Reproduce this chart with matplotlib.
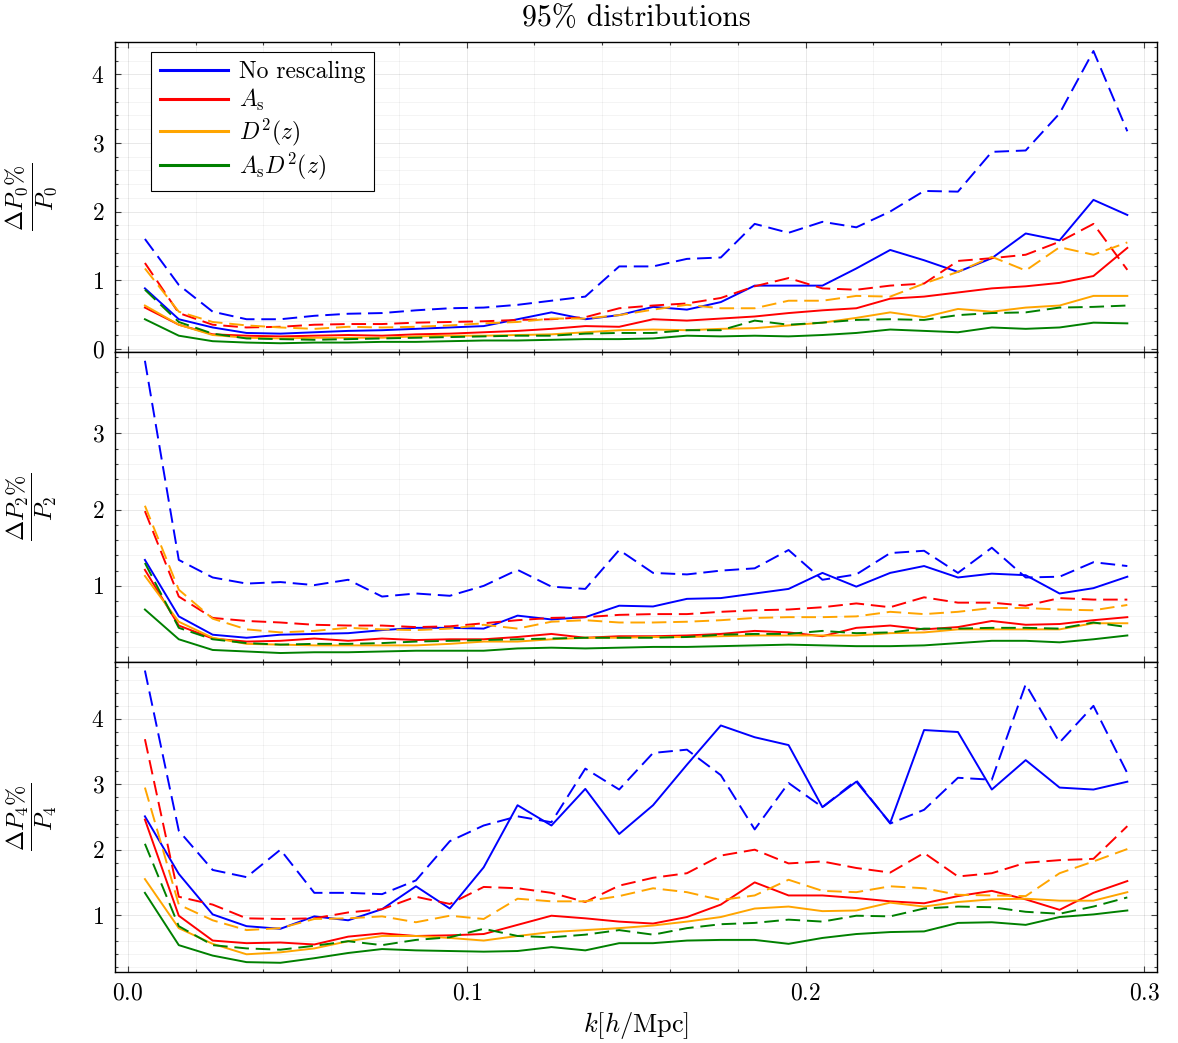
import matplotlib
matplotlib.use("Agg")
import matplotlib.pyplot as plt
from matplotlib.ticker import MultipleLocator, FixedLocator

plt.rcParams['font.family'] = 'serif'
plt.rcParams['font.serif'] = ['cmr10']
plt.rcParams['mathtext.fontset'] = 'cm'
plt.rcParams['axes.formatter.use_mathtext'] = True

# k bins
k = [0.005, 0.015, 0.025, 0.035, 0.045, 0.055, 0.065, 0.075, 0.085, 0.095,
     0.105, 0.115, 0.125, 0.135, 0.145, 0.155, 0.165, 0.175, 0.185, 0.195,
     0.205, 0.215, 0.225, 0.235, 0.245, 0.255, 0.265, 0.275, 0.285, 0.295]

labels = ['No rescaling', r'$A_\mathrm{s}$', r'$D^2(z)$', r'$A_\mathrm{s}D^2(z)$']
colors = ['blue', 'red', 'orange', 'green']

# monopole: solid / dashed for each rescaling
p0_none = [0.88, 0.43, 0.31, 0.23, 0.22, 0.24, 0.26, 0.27, 0.29, 0.31, 0.33, 0.43, 0.53, 0.43, 0.49,
           0.61, 0.57, 0.68, 0.92, 0.92, 0.92, 1.17, 1.44, 1.29, 1.12, 1.32, 1.68, 1.58, 2.17, 1.95]
p0_none_d = [1.60, 0.93, 0.54, 0.43, 0.43, 0.48, 0.51, 0.52, 0.56, 0.59, 0.60, 0.64, 0.70, 0.76, 1.20,
             1.20, 1.31, 1.33, 1.82, 1.69, 1.85, 1.77, 2.00, 2.30, 2.29, 2.87, 2.89, 3.43, 4.34, 3.17]
p0_as = [0.60, 0.35, 0.21, 0.19, 0.18, 0.19, 0.20, 0.19, 0.21, 0.22, 0.24, 0.26, 0.29, 0.33, 0.32,
         0.43, 0.41, 0.44, 0.47, 0.52, 0.56, 0.59, 0.73, 0.76, 0.82, 0.88, 0.91, 0.96, 1.06, 1.47]
p0_as_d = [1.25, 0.52, 0.35, 0.31, 0.32, 0.35, 0.36, 0.36, 0.38, 0.39, 0.40, 0.42, 0.43, 0.46, 0.59,
           0.63, 0.66, 0.74, 0.91, 1.03, 0.88, 0.86, 0.92, 0.95, 1.28, 1.32, 1.37, 1.56, 1.82, 1.15]
p0_d2 = [0.63, 0.35, 0.20, 0.16, 0.15, 0.16, 0.16, 0.16, 0.18, 0.19, 0.19, 0.20, 0.21, 0.24, 0.27,
         0.28, 0.27, 0.29, 0.30, 0.34, 0.38, 0.45, 0.53, 0.46, 0.58, 0.54, 0.60, 0.63, 0.77, 0.77]
p0_d2_d = [1.17, 0.54, 0.39, 0.34, 0.31, 0.29, 0.32, 0.31, 0.32, 0.34, 0.37, 0.39, 0.44, 0.44, 0.49,
           0.57, 0.64, 0.59, 0.59, 0.70, 0.70, 0.77, 0.76, 0.95, 1.12, 1.34, 1.14, 1.48, 1.37, 1.55]
p0_asd2 = [0.43, 0.19, 0.11, 0.09, 0.08, 0.09, 0.09, 0.10, 0.10, 0.11, 0.12, 0.12, 0.13, 0.14, 0.14,
           0.15, 0.19, 0.18, 0.19, 0.18, 0.20, 0.23, 0.28, 0.26, 0.24, 0.31, 0.29, 0.31, 0.38, 0.37]
p0_asd2_d = [0.86, 0.39, 0.22, 0.15, 0.14, 0.13, 0.14, 0.15, 0.16, 0.17, 0.18, 0.19, 0.19, 0.22, 0.23,
             0.23, 0.27, 0.27, 0.41, 0.35, 0.38, 0.42, 0.43, 0.42, 0.49, 0.52, 0.53, 0.60, 0.61, 0.63]

# quadrupole
p2_none = [1.34, 0.60, 0.36, 0.32, 0.36, 0.37, 0.38, 0.42, 0.45, 0.45, 0.44, 0.61, 0.56, 0.59, 0.74,
           0.73, 0.83, 0.84, 0.90, 0.96, 1.17, 0.99, 1.17, 1.26, 1.11, 1.16, 1.14, 0.90, 0.97, 1.12]
p2_none_d = [3.95, 1.34, 1.11, 1.03, 1.05, 1.01, 1.08, 0.86, 0.90, 0.87, 1.00, 1.21, 0.99, 0.96, 1.47,
             1.17, 1.15, 1.20, 1.23, 1.47, 1.08, 1.15, 1.43, 1.46, 1.17, 1.50, 1.11, 1.12, 1.31, 1.26]
p2_as = [1.21, 0.48, 0.31, 0.27, 0.28, 0.31, 0.28, 0.31, 0.29, 0.30, 0.30, 0.33, 0.37, 0.32, 0.34,
         0.34, 0.35, 0.37, 0.41, 0.39, 0.34, 0.45, 0.48, 0.43, 0.46, 0.54, 0.49, 0.50, 0.55, 0.59]
p2_as_d = [1.98, 0.86, 0.58, 0.54, 0.52, 0.49, 0.48, 0.48, 0.46, 0.47, 0.51, 0.55, 0.58, 0.59, 0.62,
           0.63, 0.63, 0.66, 0.68, 0.69, 0.72, 0.77, 0.72, 0.85, 0.78, 0.78, 0.74, 0.84, 0.82, 0.82]
p2_d2 = [1.13, 0.53, 0.32, 0.24, 0.23, 0.22, 0.22, 0.22, 0.22, 0.24, 0.27, 0.27, 0.30, 0.32, 0.32,
         0.33, 0.33, 0.34, 0.35, 0.35, 0.35, 0.35, 0.38, 0.39, 0.43, 0.43, 0.43, 0.43, 0.51, 0.51]
p2_d2_d = [2.05, 0.95, 0.57, 0.43, 0.39, 0.41, 0.45, 0.43, 0.42, 0.44, 0.49, 0.44, 0.53, 0.55, 0.52,
           0.52, 0.53, 0.55, 0.58, 0.59, 0.59, 0.60, 0.66, 0.63, 0.66, 0.71, 0.71, 0.69, 0.68, 0.75]
p2_asd2 = [0.69, 0.30, 0.16, 0.14, 0.12, 0.13, 0.13, 0.14, 0.15, 0.15, 0.15, 0.18, 0.19, 0.18, 0.19,
           0.20, 0.20, 0.21, 0.22, 0.23, 0.22, 0.21, 0.21, 0.22, 0.25, 0.28, 0.28, 0.26, 0.30, 0.35]
p2_asd2_d = [1.30, 0.45, 0.30, 0.25, 0.23, 0.24, 0.24, 0.25, 0.27, 0.28, 0.29, 0.30, 0.31, 0.32, 0.32,
             0.32, 0.33, 0.36, 0.37, 0.37, 0.41, 0.38, 0.39, 0.44, 0.44, 0.45, 0.45, 0.44, 0.52, 0.46]

# hexadecapole
p4_none = [2.51, 1.63, 1.01, 0.83, 0.79, 0.98, 0.92, 1.09, 1.44, 1.10, 1.73, 2.68, 2.37, 2.93, 2.24,
           2.68, 3.30, 3.90, 3.72, 3.60, 2.65, 3.04, 2.41, 3.83, 3.80, 2.92, 3.37, 2.95, 2.92, 3.04]
p4_none_d = [4.74, 2.29, 1.69, 1.58, 2.00, 1.34, 1.34, 1.32, 1.53, 2.13, 2.37, 2.51, 2.42, 3.24, 2.92,
             3.48, 3.53, 3.14, 2.31, 3.02, 2.65, 3.06, 2.40, 2.61, 3.10, 3.07, 4.53, 3.64, 4.20, 3.17]
p4_as = [2.46, 0.99, 0.61, 0.57, 0.58, 0.55, 0.67, 0.72, 0.68, 0.69, 0.71, 0.85, 0.99, 0.95, 0.90,
         0.87, 0.97, 1.16, 1.50, 1.30, 1.30, 1.26, 1.21, 1.18, 1.29, 1.37, 1.24, 1.08, 1.34, 1.52]
p4_as_d = [3.69, 1.28, 1.16, 0.95, 0.94, 0.95, 1.04, 1.09, 1.28, 1.17, 1.43, 1.41, 1.34, 1.20, 1.45,
           1.57, 1.64, 1.91, 2.00, 1.79, 1.82, 1.72, 1.65, 1.95, 1.59, 1.64, 1.80, 1.84, 1.86, 2.36]
p4_d2 = [1.55, 0.80, 0.56, 0.40, 0.43, 0.49, 0.60, 0.68, 0.68, 0.65, 0.61, 0.68, 0.74, 0.77, 0.80,
         0.84, 0.90, 0.97, 1.10, 1.13, 1.06, 1.07, 1.19, 1.13, 1.20, 1.24, 1.25, 1.22, 1.22, 1.35]
p4_d2_d = [2.95, 1.16, 0.92, 0.77, 0.80, 0.94, 0.95, 0.98, 0.89, 0.99, 0.94, 1.25, 1.21, 1.21, 1.29,
           1.41, 1.35, 1.23, 1.30, 1.54, 1.37, 1.35, 1.44, 1.41, 1.31, 1.30, 1.29, 1.64, 1.82, 2.01]
p4_asd2 = [1.34, 0.54, 0.38, 0.28, 0.27, 0.34, 0.42, 0.48, 0.46, 0.45, 0.44, 0.45, 0.51, 0.46, 0.57,
           0.57, 0.61, 0.62, 0.62, 0.56, 0.65, 0.71, 0.74, 0.75, 0.88, 0.89, 0.85, 0.97, 1.01, 1.07]
p4_asd2_d = [2.09, 0.83, 0.54, 0.49, 0.47, 0.53, 0.60, 0.54, 0.62, 0.66, 0.79, 0.68, 0.66, 0.70, 0.77,
             0.70, 0.80, 0.86, 0.88, 0.93, 0.90, 0.99, 0.98, 1.10, 1.13, 1.12, 1.05, 1.02, 1.13, 1.27]

panels = [
    (0, [p0_none, p0_as, p0_d2, p0_asd2], [p0_none_d, p0_as_d, p0_d2_d, p0_asd2_d], [0, 1, 2, 3, 4]),
    (2, [p2_none, p2_as, p2_d2, p2_asd2], [p2_none_d, p2_as_d, p2_d2_d, p2_asd2_d], [1, 2, 3]),
    (4, [p4_none, p4_as, p4_d2, p4_asd2], [p4_none_d, p4_as_d, p4_d2_d, p4_asd2_d], [1, 2, 3, 4]),
]

fig = plt.figure(figsize=(11.78, 10.43), dpi=100)
left, width = 0.098, 0.884
h = 0.297
bottoms = [0.6625, 0.3655, 0.0685]

axes = []
for i, (ell, solid, dashed, yt) in enumerate(panels):
    ax = fig.add_axes([left, bottoms[i], width, h], sharex=axes[0] if axes else None)
    axes.append(ax)
    handles = []
    for c, lab, ys, yd in zip(colors, labels, solid, dashed):
        ln, = ax.plot(k, ys, color=c, lw=1.4, label=lab)
        ax.plot(k, yd, color=c, lw=1.4, linestyle=(0, (7.5, 3.5)))
        handles.append(ln)
    ax.margins(x=0.03, y=0.03)
    ax.yaxis.set_major_locator(FixedLocator(yt))
    ax.yaxis.set_minor_locator(MultipleLocator(0.2))
    ax.xaxis.set_major_locator(MultipleLocator(0.1))
    ax.xaxis.set_minor_locator(MultipleLocator(0.02))
    ax.grid(which='major', color='k', alpha=0.1, lw=0.6)
    ax.grid(which='minor', color='k', alpha=0.05, lw=0.6)
    ax.set_axisbelow(True)
    ax.tick_params(which='both', direction='in', top=True, right=True,
                   labelsize=17, color='0.25', width=0.8, pad=8)
    ax.tick_params(which='major', length=4.5)
    ax.tick_params(which='minor', length=2.5)
    for s in ax.spines.values():
        s.set_linewidth(1.0)
        s.set_color('black')
    ax.set_ylabel(r'$\dfrac{\Delta P_{%d}\%%}{P_{%d}}$' % (ell, ell), fontsize=17.5, labelpad=0)
    ax.yaxis.set_label_coords(-0.054, 0.5)
    if i < 2:
        ax.tick_params(labelbottom=False)
    if i == 0:
        ax.set_title('95% distributions', fontsize=21.5, pad=12)
        leg = ax.legend(handles=handles, loc='upper left', bbox_to_anchor=(0.034, 0.968),
                        borderaxespad=0, fontsize=17, fancybox=False, framealpha=1,
                        edgecolor='black', handlelength=2.9, handletextpad=0.45,
                        labelspacing=0.15, borderpad=0.38)
        leg.get_frame().set_linewidth(0.8)
        for lh in leg.get_lines():
            lh.set_linewidth(2.2)

axes[2].set_xlabel(r'$k[h/\mathrm{Mpc}]$', fontsize=19, labelpad=4)

fig.savefig('out.png', dpi=100)
